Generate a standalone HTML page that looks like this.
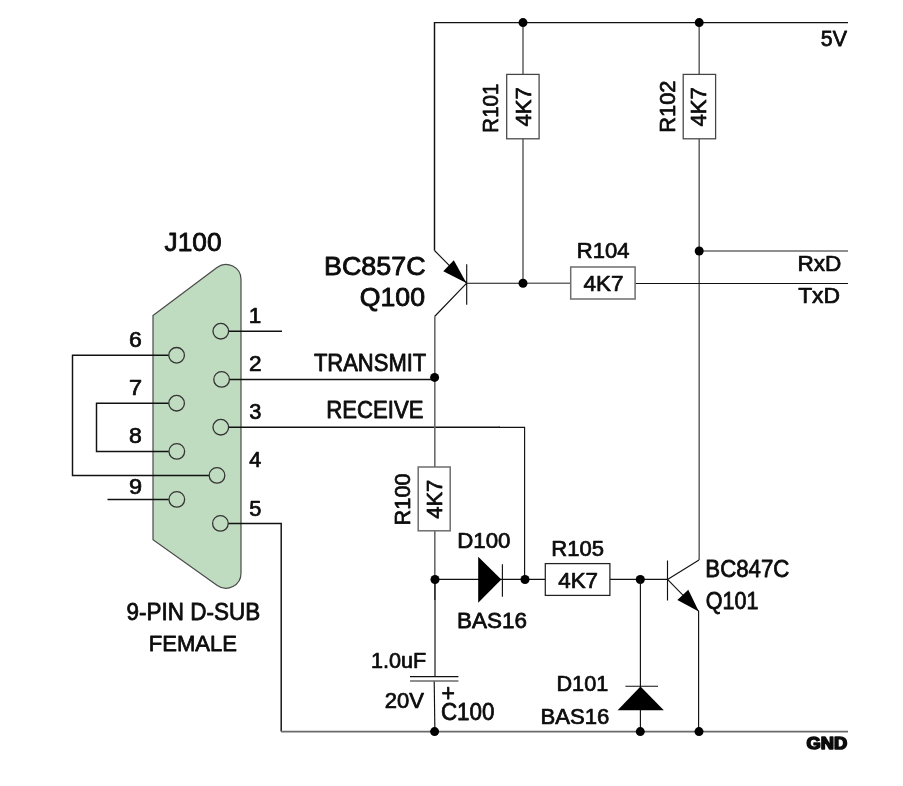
<!DOCTYPE html>
<html lang="en">
<head>
<meta charset="utf-8">
<title>RS232 level shifter schematic</title>
<style>
html,body{margin:0;padding:0;background:#fff;}
body{width:903px;height:786px;overflow:hidden;}
svg{display:block;will-change:transform;}
text{font-family:"Liberation Sans",Arial,Helvetica,sans-serif;fill:#0c0c0c;stroke:#0c0c0c;stroke-linejoin:round;}
.w{stroke:#111;stroke-width:1.45;fill:none;}
.w2{stroke:#111;stroke-width:1.15;fill:none;}
.g{stroke:#6a6a6a;stroke-width:1.6;fill:none;}
.box{stroke:#6e6e6e;stroke-width:1.5;fill:#fff;}
.dot{fill:#000;}
.pin{stroke:#333;stroke-width:1.3;fill:#c0dcc0;}
</style>
</head>
<body>
<svg width="903" height="786" viewBox="0 0 903 786">
<rect width="903" height="786" fill="#fff"/>

<!-- connector body -->
<path d="M153 315.4 L217 267.5 A15 15 0 0 1 241 279.5 L241 573.2 A15 15 0 0 1 217.3 585.4 L153 539.8 Z" fill="#c0dcc0" stroke="#4a4a4a" stroke-width="1.2"/>

<!-- connector wires -->
<path class="w" d="M228.5 331.2 H282"/>
<path class="w" d="M229 379.5 H434.6"/>
<path class="w" d="M228.5 427.3 H500"/><path class="w2" d="M499 427.3 H524.6 V579.4"/>
<path class="w" d="M228 523.4 H281.2 V731.6"/>
<path class="w" d="M168.8 355.3 H72.5 V475.4 H209"/>
<path class="w" d="M168.8 403.2 H96.5 V451.4 H168.8"/>
<path class="w" d="M168.8 499.4 H107.5"/>

<!-- pins -->
<circle class="pin" cx="220.8" cy="331.2" r="7.8"/>
<circle class="pin" cx="221.6" cy="379.4" r="7.8"/>
<circle class="pin" cx="220.8" cy="427.2" r="7.8"/>
<circle class="pin" cx="217" cy="475.4" r="7.8"/>
<circle class="pin" cx="220.4" cy="523.4" r="7.8"/>
<circle class="pin" cx="176.6" cy="355.3" r="7.8"/>
<circle class="pin" cx="176.6" cy="403.2" r="7.8"/>
<circle class="pin" cx="176.8" cy="451.4" r="7.8"/>
<circle class="pin" cx="176.8" cy="499.4" r="7.8"/>

<!-- pin numbers -->


<!-- 5V rail -->
<path class="w" d="M434.5 250.5 V22.6 H848"/>
<path class="g" d="M523 22.6 V74.5 M523 139 V283"/>
<path class="g" d="M699.2 22.6 V74.5 M699.2 139 V560"/>
<rect class="box" x="506.7" y="74.4" width="32.4" height="64.4" style="stroke:#444;stroke-width:1.25"/>
<rect class="box" x="683.2" y="74.4" width="32.4" height="64.4" style="stroke:#444;stroke-width:1.25"/>
<circle class="dot" cx="523" cy="22.6" r="4.5"/>
<circle class="dot" cx="699.2" cy="22.6" r="4.5"/>

<!-- Q100 -->
<path class="w2" d="M434.5 250.5 L466.7 283.2 M466.7 264.2 V304.8 M466.7 283.2 L434.6 316.5"/>
<path d="M466.4 282.9 L443.3 271.3 L453.8 260.3 Z" fill="#000"/>
<path class="g" d="M434.8 316.5 V467 M434.8 530.8 V600"/><path class="w2" d="M435 579.4 V676.6"/>
<path class="w2" d="M434.2 681 L434.9 731.6"/>
<path class="w2" d="M466.7 283.2 H523"/>
<path class="g" d="M523 283.2 H570.5"/>
<path class="w2" d="M635.1 283.5 H848"/>
<path class="g" d="M699.2 251 H848"/>
<rect class="box" x="570.7" y="267" width="64.4" height="32"/>
<circle class="dot" cx="523" cy="283.2" r="4.5"/>
<circle class="dot" cx="699.2" cy="251" r="4.5"/>
<circle class="dot" cx="434.6" cy="377.4" r="4.5"/>

<!-- R100 -->
<rect class="box" x="418.2" y="467" width="32" height="63.8"/>

<!-- D100 / R105 row -->
<path class="w2" d="M435 579.4 H545 M609.8 579.4 H667.5"/>
<path d="M478.2 556.8 L501.3 579.5 L478.2 602.7 Z" fill="#000"/>
<path class="w2" d="M502.4 564.2 V596.7"/>
<rect class="box" x="545.3" y="563.6" width="64.6" height="31.8" style="stroke:#222;stroke-width:1.25"/>
<circle class="dot" cx="435" cy="579.5" r="4.55"/>
<circle class="dot" cx="525" cy="579.5" r="4.55"/>
<circle class="dot" cx="640.3" cy="579.5" r="4.55"/>

<!-- C100 -->
<path class="w" d="M410 676.6 H458.4"/>
<path class="g" d="M410 681 H458.4"/>

<!-- D101 -->
<path class="w2" d="M640.4 579.4 V731.6 M625.4 686.2 H658"/>
<path d="M640.5 686.4 L663.8 710.3 L617.6 710.3 Z" fill="#000"/>

<!-- Q101 -->
<path class="w2" d="M699 560 L667.5 579.4 M667.5 560.4 V600.6 M667.5 579.4 L698.6 611.2 V731.6"/>
<path d="M698.8 611.4 L677.4 599.9 L688.3 589.8 Z" fill="#000"/>

<text transform="translate(820.87 46.42) scale(0.9410 1)" font-size="22.75" stroke-width="0.75">5V</text>
<text transform="translate(797.42 270.73) scale(1.0100 1)" font-size="22.33" stroke-width="0.74">RxD</text>
<text transform="translate(798.17 302.93) scale(1.0232 1)" font-size="22.33" stroke-width="0.74">TxD</text>
<text transform="translate(705.34 577.32) scale(0.9675 1)" font-size="23.02" stroke-width="0.76">BC847C</text>
<text transform="translate(705.85 609.42) scale(0.9362 1)" font-size="23.02" stroke-width="0.76">Q101</text>
<text transform="translate(370.90 667.94) scale(0.9866 1)" font-size="21.91" stroke-width="0.72">1.0uF</text>
<text transform="translate(384.84 708.32) scale(0.9667 1)" font-size="22.75" stroke-width="0.75">20V</text>
<text transform="translate(440.93 720.22) scale(0.9726 1)" font-size="23.02" stroke-width="0.76">C100</text>
<text transform="translate(457.24 548.13) scale(1.0031 1)" font-size="22.19" stroke-width="0.73">D100</text>
<text transform="translate(457.03 627.62) scale(0.9884 1)" font-size="22.75" stroke-width="0.75">BAS16</text>
<text transform="translate(551.36 555.94) scale(0.9996 1)" font-size="22.05" stroke-width="0.73">R105</text>
<text transform="translate(558.18 587.64) scale(1.0170 1)" font-size="22.05" stroke-width="0.73">4K7</text>
<text transform="translate(556.48 691.44) scale(0.9884 1)" font-size="21.91" stroke-width="0.72">D101</text>
<text transform="translate(540.45 723.54) scale(1.0030 1)" font-size="22.05" stroke-width="0.73">BAS16</text>
<text transform="translate(576.76 258.13) scale(0.9929 1)" font-size="22.19" stroke-width="0.73">R104</text>
<text transform="translate(583.48 290.73) scale(1.0007 1)" font-size="22.47" stroke-width="0.74">4K7</text>
<text transform="translate(164.60 250.68) scale(1.0411 1)" font-size="25.24" stroke-width="0.83">J100</text>
<text transform="translate(324.02 274.77) scale(1.0310 1)" font-size="26.07" stroke-width="0.86">BC857C</text>
<text transform="translate(359.70 306.27) scale(1.0238 1)" font-size="26.07" stroke-width="0.86">Q100</text>
<text transform="translate(313.88 370.72) scale(0.9557 1)" font-size="23.02" stroke-width="0.76">TRANSMIT</text>
<text transform="translate(326.25 418.12) scale(0.9618 1)" font-size="23.02" stroke-width="0.76">RECEIVE</text>
<text transform="translate(126.53 620.22) scale(0.9773 1)" font-size="23.02" stroke-width="0.76">9-PIN D-SUB</text>
<text transform="translate(148.75 651.32) scale(0.9715 1)" font-size="22.75" stroke-width="0.75">FEMALE</text>
<text transform="translate(248.78 323.23) scale(1.0000 1)" font-size="22.47" stroke-width="0.74">1</text>
<text transform="translate(249.07 370.92) scale(0.9959 1)" font-size="22.75" stroke-width="0.75">2</text>
<text transform="translate(249.31 418.83) scale(0.9687 1)" font-size="22.47" stroke-width="0.74">3</text>
<text transform="translate(249.33 466.93) scale(0.9573 1)" font-size="22.47" stroke-width="0.74">4</text>
<text transform="translate(249.31 515.73) scale(0.9687 1)" font-size="22.47" stroke-width="0.74">5</text>
<text transform="translate(128.96 347.34) scale(1.0630 1)" font-size="21.64" stroke-width="0.71">6</text>
<text transform="translate(128.95 394.64) scale(1.0847 1)" font-size="21.64" stroke-width="0.71">7</text>
<text transform="translate(128.96 442.94) scale(1.0630 1)" font-size="21.64" stroke-width="0.71">8</text>
<text transform="translate(128.95 493.74) scale(1.0847 1)" font-size="21.64" stroke-width="0.71">9</text>
<text transform="translate(441.61 701.02) scale(0.9940 1)" font-size="23.02" stroke-width="0.76">+</text>
<text transform="translate(498.34 132.63) rotate(-90) scale(0.9287 1)" font-size="22.05" stroke-width="0.73">R101</text>
<text transform="translate(531.34 126.62) rotate(-90) scale(1.0039 1)" font-size="22.05" stroke-width="0.73">4K7</text>
<text transform="translate(674.84 132.73) rotate(-90) scale(0.9901 1)" font-size="22.05" stroke-width="0.73">R102</text>
<text transform="translate(706.44 126.62) rotate(-90) scale(1.0039 1)" font-size="22.05" stroke-width="0.73">4K7</text>
<text transform="translate(410.32 525.42) rotate(-90) scale(0.9518 1)" font-size="22.88" stroke-width="0.76">R100</text>
<text transform="translate(442.34 518.72) rotate(-90) scale(1.0061 1)" font-size="21.78" stroke-width="0.72">4K7</text>
<text transform="translate(806.48 749.37) scale(1.1767 1)" font-size="15.56" font-weight="bold" stroke-width="1.48">GND</text>
<!-- GND rail -->
<path class="g" d="M281.2 731.6 H848"/>
<circle class="dot" cx="434.6" cy="731.6" r="4.5"/>
<circle class="dot" cx="640.3" cy="731.6" r="4.5"/>
<circle class="dot" cx="699" cy="731.6" r="4.5"/>
</svg>
</body>
</html>
